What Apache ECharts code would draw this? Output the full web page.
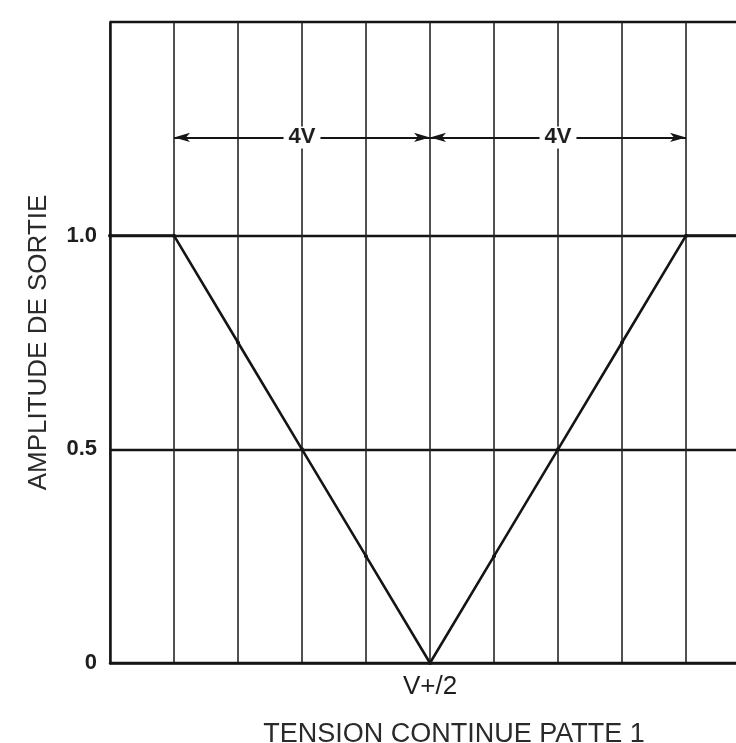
<!DOCTYPE html>
<html>
<head>
<meta charset="utf-8">
<script src="https://cdn.jsdelivr.net/npm/echarts@6/dist/echarts.min.js"></script>
<style>
  html, body { margin: 0; padding: 0; background: #fff; }
  #chart { width: 736px; height: 743px; }
</style>
</head>
<body>
<div id="chart"></div>
<script>
// DC voltage on pin 1, in volts relative to V+/2
const voltage = [-5, -4, -3, -2, -1, 0, 1, 2, 3, 4, 5];
// Normalised output amplitude at each voltage
const amplitude = [1, 1, 0.75, 0.5, 0.25, 0, 0.25, 0.5, 0.75, 1, 1];
// Y tick labels
const yTicks = { 0: '0', 0.5: '0.5', 1: '1.0' };
// X tick label at the centre voltage
const xTicks = { 0: 'V+/2' };
// Dimension spans drawn above the curve: [from, to, label]
const spans = [[-4, 0, '4V'], [0, 4, '4V']];
const spanLevel = 1.23;

const ink = '#151515';
const font = '"Liberation Sans", Arial, sans-serif';

const chart = echarts.init(document.getElementById('chart'));

chart.setOption({
  animation: false,
  backgroundColor: '#ffffff',
  // the plot area runs on past the right edge of the page
  grid: { left: 110, right: -14, top: 22, bottom: 80, outerBoundsMode: 'none' },
  title: {
    text: 'TENSION CONTINUE PATTE 1',
    left: 449,
    top: 716,
    textAlign: 'center',
    textStyle: { fontFamily: font, fontSize: 27, fontWeight: 'normal', color: '#2a2a2a' }
  },
  xAxis: {
    type: 'value',
    min: -5,
    max: 5,
    interval: 1,
    axisLine: { show: true, onZero: false, lineStyle: { color: ink, width: 2.5 } },
    axisTick: { show: false },
    axisLabel: {
      margin: 11,
      fontFamily: font,
      fontSize: 26,
      color: '#1e1e1e',
      formatter: v => xTicks[v] || ''
    },
    splitLine: { show: true, lineStyle: { color: '#262626', width: 1.6 } }
  },
  yAxis: {
    type: 'value',
    min: 0,
    max: 1.5,
    interval: 0.5,
    name: 'AMPLITUDE DE SORTIE',
    nameLocation: 'middle',
    nameGap: 58,
    nameTextStyle: { fontFamily: font, fontSize: 26, color: '#2a2a2a' },
    axisLine: { show: true, onZero: false, lineStyle: { color: ink, width: 2.5 } },
    axisTick: { show: false },
    axisLabel: {
      margin: 13,
      fontFamily: font,
      fontSize: 22,
      fontWeight: 'bold',
      color: '#1e1e1e',
      formatter: v => yTicks[v] !== undefined ? yTicks[v] : ''
    },
    splitLine: { show: true, lineStyle: { color: ink, width: 2.4 } }
  },
  series: [{
    type: 'line',
    data: voltage.map((v, i) => [v, amplitude[i]]),
    symbol: 'circle',
    symbolSize: 4,
    showSymbol: true,
    itemStyle: { color: ink },
    lineStyle: { color: ink, width: 2.6 },
    z: 5,
    markLine: {
      silent: true,
      symbol: ['arrow', 'arrow'],
      symbolSize: [7, 16],
      lineStyle: { color: ink, width: 1.8, type: 'solid' },
      label: {
        show: true,
        position: 'middle',
        fontFamily: font,
        fontSize: 22,
        fontWeight: 'bold',
        color: '#1e1e1e',
        backgroundColor: '#ffffff',
        padding: [0, 5],
        distance: -11,
        formatter: p => p.name
      },
      data: spans.map(s => [
        { coord: [s[0], spanLevel], name: s[2] },
        { coord: [s[1], spanLevel] }
      ])
    }
  }]
});
</script>
</body>
</html>
